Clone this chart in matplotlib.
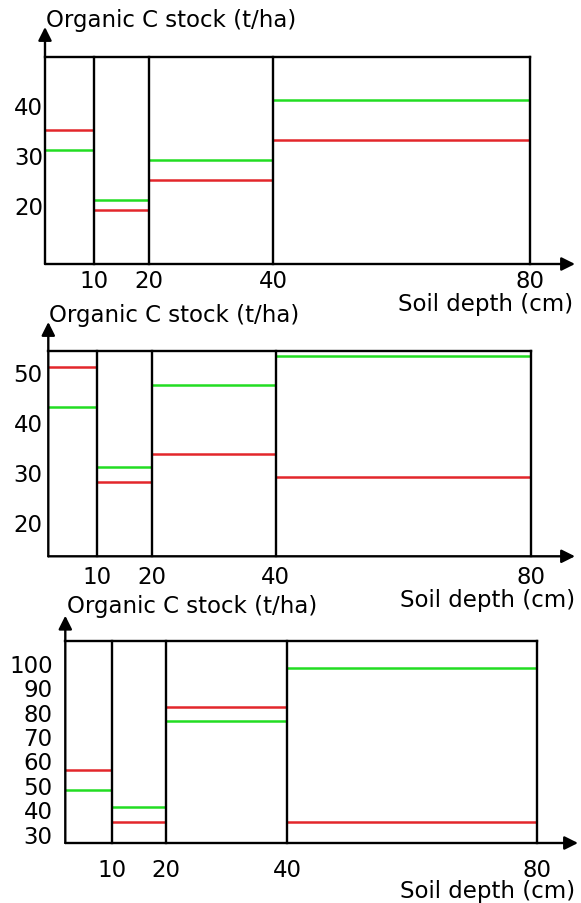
import numpy as np
import matplotlib
matplotlib.use("Agg")
import matplotlib.pyplot as plt

plt.rcParams['font.family'] = ['DejaVu Sans']

# ---- data ----
depth_bounds = [0, 10, 20, 40, 80]
xtick_labels = ["10", "20", "40", "80"]
y_label = "Organic C stock (t/ha)"
x_label = "Soil depth (cm)"

red_1 = [35, 19, 25, 33]
green_1 = [31, 21, 29, 41]
yticks_1 = [20, 30, 40]

red_2 = [51, 28, 33.6, 29]
green_2 = [43, 31, 47.5, 53.3]
yticks_2 = [20, 30, 40, 50]

red_3 = [56, 35, 82, 35]
green_3 = [48, 41, 76, 98]
yticks_3 = [30, 40, 50, 60, 70, 80, 90, 100]

# ---- layout (pixels) ----
W, H = 581, 904
# relative horizontal position of each depth boundary in the drawing
depth_layout = [0, 0.100, 0.214, 0.471, 1.0]

panels = [
    dict(red=red_1, green=green_1, yticks=yticks_1, ylim=(8.2, 49.5),
         x0=45, x80=530, ytop=58.3, ybot=265, yarrow=28, xarrow=575,
         ylab=(46, 27.3), xlab=(573, 311), ypad_px=2, xtick_base=287.5),
    dict(red=red_2, green=green_2, yticks=yticks_2, ylim=(13.1, 54.3),
         x0=48.3, x80=530.7, ytop=351.7, ybot=557.3, yarrow=323, xarrow=575,
         ylab=(49, 321.7), xlab=(575, 607.5), ypad_px=5.6, xtick_base=583.5),
    dict(red=red_3, green=green_3, yticks=yticks_3, ylim=(26.2, 108.8),
         x0=65.3, x80=536.7, ytop=642.3, ybot=844, yarrow=616.7, xarrow=578,
         ylab=(67, 612.7), xlab=(575, 898.3), ypad_px=12.6, xtick_base=877.3),
]

RED = '#e3262b'
GREEN = '#22dd22'
FS = 16.5


def fwd(d):
    return np.interp(d, depth_bounds, depth_layout)


def inv(p):
    return np.interp(p, depth_layout, depth_bounds)


fig = plt.figure(figsize=(W / 100, H / 100), dpi=100)

for p in panels:
    left = p['x0'] / W
    bottom = 1 - p['ybot'] / H
    width = (p['x80'] - p['x0']) / W
    height = (p['ybot'] - p['ytop']) / H
    ax = fig.add_axes([left, bottom, width, height])
    ax.set_xscale('function', functions=(fwd, inv))
    ax.set_xlim(depth_bounds[0], depth_bounds[-1])
    ax.set_ylim(*p['ylim'])

    lefts = depth_bounds[:-1]
    rights = depth_bounds[1:]
    ax.hlines(p['green'], lefts, rights, color=GREEN, lw=1.8, zorder=3)
    ax.hlines(p['red'], lefts, rights, color=RED, lw=1.8, zorder=3)
    for xb in depth_bounds[1:]:
        ax.axvline(xb, color='black', lw=1.7, zorder=4, clip_on=False)

    for s in ['left', 'bottom', 'right']:
        ax.spines[s].set_visible(False)
    ax.spines['top'].set_linewidth(1.7)

    # axis arrows
    xa = (p['xarrow'] - p['x0']) / (p['x80'] - p['x0'])
    ya = (p['ybot'] - p['yarrow']) / (p['ybot'] - p['ytop'])
    arrow = dict(arrowstyle='-|>', lw=1.7, color='black', mutation_scale=20,
                 shrinkA=0, shrinkB=0)
    ax.annotate('', xy=(xa, 0), xytext=(0, 0), xycoords='axes fraction',
                arrowprops=arrow, annotation_clip=False)
    ax.annotate('', xy=(0, ya), xytext=(0, 0), xycoords='axes fraction',
                arrowprops=arrow, annotation_clip=False)

    ax.set_yticks(p['yticks'])
    ax.set_yticklabels([str(t) for t in p['yticks']], fontsize=FS)
    ax.set_xticks(depth_bounds[1:])
    ax.set_xticklabels(xtick_labels, fontsize=FS)
    ax.xaxis.set_minor_locator(matplotlib.ticker.NullLocator())
    ax.tick_params(axis='y', length=0, pad=p['ypad_px'] * 0.72)
    for lab in ax.get_xticklabels():
        lab.set_verticalalignment('baseline')
    base_off = (p['xtick_base'] - p['ybot']) * 0.72
    ax.tick_params(axis='x', length=0, pad=base_off)

    fig.text(p['ylab'][0] / W, 1 - p['ylab'][1] / H, y_label,
             fontsize=FS, ha='left', va='baseline')
    fig.text(p['xlab'][0] / W, 1 - p['xlab'][1] / H, x_label,
             fontsize=FS, ha='right', va='baseline')

fig.savefig('out.png', dpi=100)
